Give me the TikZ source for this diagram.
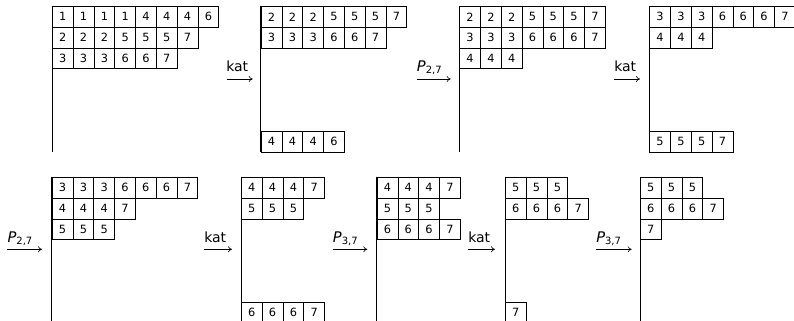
\documentclass[tikz,border=0pt]{standalone}
\usepackage{fontspec}
\setmainfont{DejaVu Sans}
\usetikzlibrary{arrows.meta}
\tikzset{
  cell/.style={draw, line width=0.6pt, minimum width=15.6pt, minimum height=15.6pt,
    inner sep=0pt, anchor=north west, font=\fontsize{8.5}{9}\selectfont},
  spineline/.style={line width=0.6pt},
  maparrow/.style={-{To[length=3pt,width=4.5pt]}, line width=0.45pt},
  maplabel/.style={inner sep=0pt, anchor=base west, font=\fontsize{10.5}{11}\selectfont},
}
\newcommand\tabrow[4]{%
  \foreach \v [count=\i] in {#4} {
    \node[cell] (#1-\i) at ({#2+(\i-1)*20.8},#3) {\v};
  }%
}
\newcommand\tabspine[3]{%
  \draw[spineline] (#2,#3) coordinate (#1-top) -- ++(0,145.6) coordinate (#1-bot);%
}
\newcommand\pmap[2]{{\fontsize{11}{11}\selectfont\itshape P}\raisebox{-1.5pt}{\fontsize{7.5}{8}\selectfont #1,#2}}
\begin{document}
\begin{tikzpicture}[x=0.75pt,y=-0.75pt]
\useasboundingbox (0,0) rectangle (794,321);
\clip (0,0) rectangle (794,321);
% ---------- top row ----------
% T1
\tabspine{ta}{52}{6}
\tabrow{ta1}{52}{6}{1,1,1,1,4,4,4,6}
\tabrow{ta2}{52}{26.8}{2,2,2,5,5,5,7}
\tabrow{ta3}{52}{47.6}{3,3,3,6,6,7}
% T2
\tabspine{tb}{260.8}{6}
\tabrow{tb1}{260.8}{6}{2,2,2,5,5,5,7}
\tabrow{tb2}{260.8}{26.8}{3,3,3,6,6,7}
\tabrow{tb7}{260.8}{130.8}{4,4,4,6}
% T3
\tabspine{tc}{459.3}{6}
\tabrow{tc1}{459.3}{6}{2,2,2,5,5,5,7}
\tabrow{tc2}{459.3}{26.8}{3,3,3,6,6,6,7}
\tabrow{tc3}{459.3}{47.6}{4,4,4}
% T4
\tabspine{td}{649.3}{6}
\tabrow{td1}{649.3}{6}{3,3,3,6,6,6,7}
\tabrow{td2}{649.3}{26.8}{4,4,4}
\tabrow{td7}{649.3}{130.8}{5,5,5,7}
% ---------- bottom row ----------
% T5
\tabspine{te}{51.8}{177}
\tabrow{te1}{51.8}{177}{3,3,3,6,6,6,7}
\tabrow{te2}{51.8}{197.8}{4,4,4,7}
\tabrow{te3}{51.8}{218.6}{5,5,5}
% T6
\tabspine{tf}{241}{177}
\tabrow{tf1}{241}{177}{4,4,4,7}
\tabrow{tf2}{241}{197.8}{5,5,5}
\tabrow{tf7}{241}{301.8}{6,6,6,7}
% T7
\tabspine{tg}{376.7}{177}
\tabrow{tg1}{376.7}{177}{4,4,4,7}
\tabrow{tg2}{376.7}{197.8}{5,5,5}
\tabrow{tg3}{376.7}{218.6}{6,6,6,7}
% T8
\tabspine{th}{505}{177}
\tabrow{th1}{505}{177}{5,5,5}
\tabrow{th2}{505}{197.8}{6,6,6,7}
\tabrow{th7}{505}{301.8}{7}
% T9
\tabspine{ti}{640}{177}
\tabrow{ti1}{640}{177}{5,5,5}
\tabrow{ti2}{640}{197.8}{6,6,6,7}
\tabrow{ti3}{640}{218.6}{7}
% ---------- maps ----------
% top row
\node[maplabel] (l1) at (226,71.7) {kat};
\coordinate (a1s) at (226.7,79); \coordinate (a1e) at (252.7,79);
\draw[maparrow] (a1s) -- (a1e);
\node[maplabel] (l2) at (416.7,71.7) {\pmap{2}{7}};
\coordinate (a2s) at (416.7,79); \coordinate (a2e) at (450.7,79);
\draw[maparrow] (a2s) -- (a2e);
\node[maplabel] (l3) at (614,71.7) {kat};
\coordinate (a3s) at (614,79); \coordinate (a3e) at (640,79);
\draw[maparrow] (a3s) -- (a3e);
% bottom row
\node[maplabel] (l4) at (7.3,242.8) {\pmap{2}{7}};
\coordinate (a4s) at (7,249.3); \coordinate (a4e) at (42,249.3);
\draw[maparrow] (a4s) -- (a4e);
\node[maplabel] (l5) at (204,242.8) {kat};
\coordinate (a5s) at (204,249.3); \coordinate (a5e) at (232,249.3);
\draw[maparrow] (a5s) -- (a5e);
\node[maplabel] (l6) at (332.7,242.8) {\pmap{3}{7}};
\coordinate (a6s) at (332.7,249.3); \coordinate (a6e) at (367.3,249.3);
\draw[maparrow] (a6s) -- (a6e);
\node[maplabel] (l7) at (468,242.8) {kat};
\coordinate (a7s) at (468,249.3); \coordinate (a7e) at (495,249.3);
\draw[maparrow] (a7s) -- (a7e);
\node[maplabel] (l8) at (596,242.8) {\pmap{3}{7}};
\coordinate (a8s) at (596,249.3); \coordinate (a8e) at (631.7,249.3);
\draw[maparrow] (a8s) -- (a8e);
\end{tikzpicture}
\end{document}
